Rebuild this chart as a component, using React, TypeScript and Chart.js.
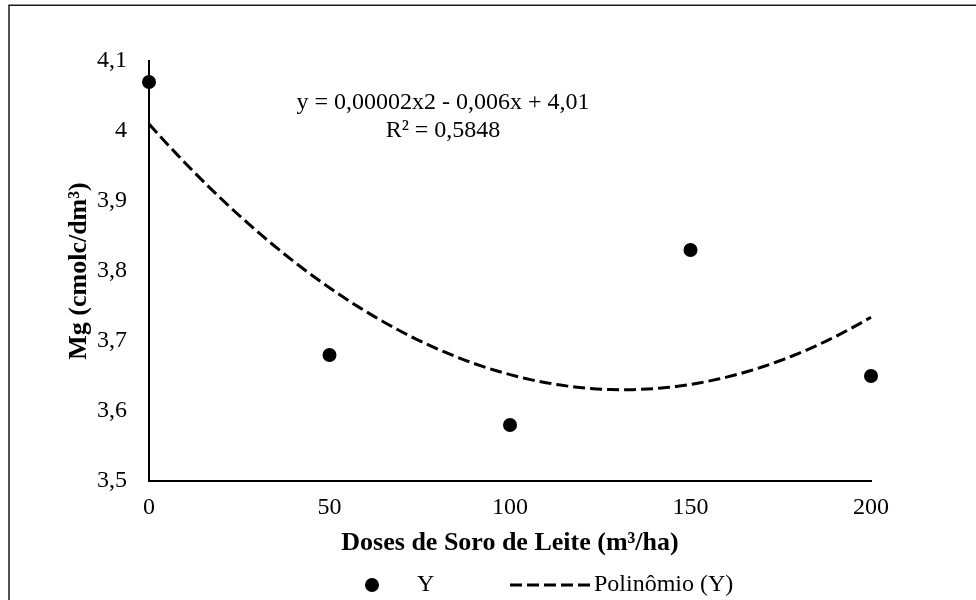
import { useEffect, useRef } from "react";
import { Chart, registerables } from "chart.js";

Chart.register(...registerables);

// Mg content for each whey dose
const doses = [0, 50, 100, 150, 200];
const mg = [4.07, 3.68, 3.58, 3.83, 3.65];

const xTicks = [0, 50, 100, 150, 200];
const yTicks = [3.5, 3.6, 3.7, 3.8, 3.9, 4.0, 4.1];

const seriesLabel = "Y";
const trendLabel = "Polinômio (Y)";
const xTitle = "Doses de Soro de Leite (m³/ha)";
const yTitle = "Mg (cmolc/dm³)";
const equationLines = ["y = 0,00002x2 - 0,006x + 4,01", "R² = 0,5848"];

const FONT = "'Liberation Serif', 'Times New Roman', serif";
const INK = "#000000";

// Least-squares second-order polynomial through the measured points
function quadraticFit(xs: number[], ys: number[]) {
  const n = xs.length;
  let s1 = 0, s2 = 0, s3 = 0, s4 = 0, t0 = 0, t1 = 0, t2 = 0;
  for (let i = 0; i < n; i++) {
    const x = xs[i], y = ys[i];
    s1 += x; s2 += x * x; s3 += x * x * x; s4 += x * x * x * x;
    t0 += y; t1 += x * y; t2 += x * x * y;
  }
  const det3 = (m: number[][]) =>
    m[0][0] * (m[1][1] * m[2][2] - m[1][2] * m[2][1]) -
    m[0][1] * (m[1][0] * m[2][2] - m[1][2] * m[2][0]) +
    m[0][2] * (m[1][0] * m[2][1] - m[1][1] * m[2][0]);
  const A = [[n, s1, s2], [s1, s2, s3], [s2, s3, s4]];
  const b = [t0, t1, t2];
  const D = det3(A);
  const solve = (col: number) =>
    det3(A.map((row, r) => row.map((v, c) => (c === col ? b[r] : v)))) / D;
  return { c0: solve(0), c1: solve(1), c2: solve(2) };
}

function trendPoints() {
  const { c0, c1, c2 } = quadraticFit(doses, mg);
  const pts: { x: number; y: number }[] = [];
  const start = doses[0];
  const end = doses[doses.length - 1];
  for (let x = start; x <= end; x += 2) pts.push({ x, y: c0 + c1 * x + c2 * x * x });
  return pts;
}

const commaNumber = (v: number) => String(Number(v.toFixed(2))).replace(".", ",");

const decorPlugin = {
  id: "decor",
  beforeDraw(chart: any) {
    const { ctx, width, height } = chart;
    ctx.save();
    ctx.fillStyle = "#ffffff";
    ctx.fillRect(0, 0, width, height);
    ctx.restore();
  },
  afterDraw(chart: any) {
    const { ctx, chartArea } = chart;
    ctx.save();
    // outer frame
    ctx.strokeStyle = "#1a1a1a";
    ctx.lineWidth = 1.5;
    ctx.strokeRect(9, 5.25, 1200, 1200);

    // trendline equation
    ctx.fillStyle = INK;
    ctx.font = `24px ${FONT}`;
    ctx.textAlign = "center";
    ctx.textBaseline = "middle";
    const ex = chartArea.left + 294;
    ctx.fillText(equationLines[0], ex, chartArea.top + 42);
    ctx.fillText(equationLines[1], ex, chartArea.top + 70);

    // legend
    const ly = 585;
    const pts = chart.data.datasets[0];
    ctx.beginPath();
    ctx.arc(372, ly, pts.pointRadius, 0, Math.PI * 2);
    ctx.fillStyle = pts.backgroundColor;
    ctx.fill();
    ctx.fillStyle = INK;
    ctx.textAlign = "left";
    ctx.fillText(seriesLabel, 417, ly);

    const tr = chart.data.datasets[1];
    ctx.beginPath();
    ctx.setLineDash(tr.borderDash);
    ctx.lineWidth = tr.borderWidth;
    ctx.strokeStyle = tr.borderColor;
    ctx.moveTo(510, ly);
    ctx.lineTo(590, ly);
    ctx.stroke();
    ctx.setLineDash([]);
    ctx.fillText(trendLabel, 594, ly);
    ctx.restore();
  },
};

export default function App() {
  const canvasRef = useRef<HTMLCanvasElement>(null);

  useEffect(() => {
    const canvas = canvasRef.current;
    if (!canvas) return;
    const chart = new Chart(canvas, {
      type: "scatter",
      data: {
        datasets: [
          {
            label: seriesLabel,
            data: doses.map((x, i) => ({ x, y: mg[i] })),
            pointRadius: 7,
            pointHoverRadius: 7,
            backgroundColor: INK,
            borderColor: INK,
            borderWidth: 0,
            showLine: false,
            clip: false,
            order: 0,
          } as any,
          {
            label: trendLabel,
            data: trendPoints(),
            showLine: true,
            borderColor: INK,
            borderWidth: 3,
            borderDash: [12, 5],
            pointRadius: 0,
            fill: false,
            tension: 0,
            clip: false,
            order: 1,
          } as any,
        ],
      },
      options: {
        animation: false,
        responsive: false,
        devicePixelRatio: 1,
        layout: { padding: { left: 0, top: 61, right: 105, bottom: 0 } },
        plugins: {
          legend: { display: false },
          tooltip: { enabled: false },
          title: { display: false },
        },
        scales: {
          x: {
            type: "linear",
            min: 0,
            max: 200,
            afterBuildTicks: (scale: any) => {
              scale.ticks = xTicks.map((value) => ({ value }));
            },
            afterFit: (scale: any) => {
              scale.height = 119;
            },
            grid: { display: false, drawTicks: false },
            border: { display: true, color: INK, width: 2 },
            ticks: {
              padding: 12,
              color: INK,
              font: { family: FONT, size: 24 },
              maxRotation: 0,
              callback: (v: any) => String(v),
            },
            title: {
              display: true,
              text: xTitle,
              color: INK,
              font: { family: FONT, size: 26, weight: "bold" },
              padding: { top: 0, bottom: 41 },
            },
          },
          y: {
            type: "linear",
            min: 3.5,
            max: 4.1,
            afterBuildTicks: (scale: any) => {
              scale.ticks = yTicks.map((value) => ({ value }));
            },
            afterFit: (scale: any) => {
              scale.width = 149;
            },
            grid: { display: false, drawTicks: false },
            border: { display: true, color: INK, width: 2 },
            ticks: {
              padding: 22,
              color: INK,
              font: { family: FONT, size: 24 },
              callback: (v: any) => commaNumber(Number(v)),
            },
            title: {
              display: true,
              text: yTitle,
              color: INK,
              font: { family: FONT, size: 26, weight: "bold" },
              padding: { top: 64, bottom: 0 },
            },
          },
        },
      },
      plugins: [decorPlugin],
    });
    return () => chart.destroy();
  }, []);

  return (
    <div style={{ position: "absolute", left: 0, top: 0, width: 976, height: 600, background: "#fff" }}>
      <canvas ref={canvasRef} width={976} height={600} style={{ display: "block", width: 976, height: 600 }} />
    </div>
  );
}
